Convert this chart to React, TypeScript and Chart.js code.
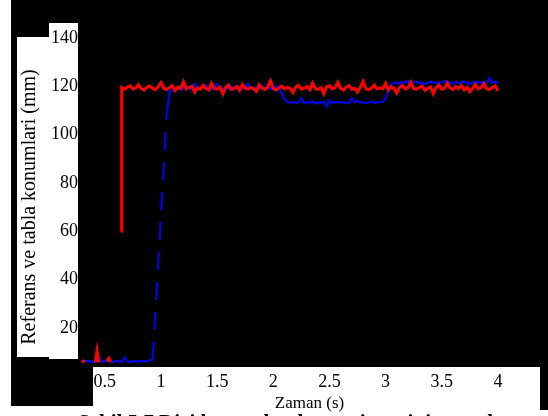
import React, { useEffect, useRef } from "react";
import { Chart, registerables } from "chart.js";

Chart.register(...registerables);

// ---- axis ranges and ticks ----
const X_MIN = 0.2698;
const X_MAX = 4.3749;
const Y_MIN = 4.68;
const Y_MAX = 155.7;
const xTicks = [0.5, 1, 1.5, 2, 2.5, 3, 3.5, 4];
const yTicks = [20, 40, 60, 80, 100, 120, 140];

const X_TITLE = "Zaman (s)";
const Y_TITLE = "Referans ve tabla konumlari (mm)";
const CAPTION = "Şekil 5.7 Dizi konumlandırma sisteminin cevabı";

// ---- sampled time grid ----
const START_TIME = 0.3;
const TIME_STEP = 0.025;

// Blue: table position (dashed line in the original)
const blueValues = [
  6.2, 6.0, 6.4, 6.1, 5.8, 6.3, 7.6, 6.0, 6.2, 7.0, 6.1, 5.9, 6.4, 6.2, 6.0, 7.8, 6.1, 5.9, 6.3, 6.2, 6.0, 6.4, 6.2, 6.1, 6.6, 6.8,
  26, 47, 67, 87, 108,
  117.5, 118.5, 119.2, 118.8, 119.6, 118.9, 120.4, 119.1, 118.7, 121.0,
  119.3, 118.9, 119.8, 120.6, 119.0, 118.6, 119.4, 120.9, 119.2, 118.8,
  119.5, 119.0, 120.2, 118.7, 119.3, 119.9, 118.9, 119.4, 121.1, 119.0,
  118.8, 119.6, 119.2, 120.3, 118.9, 119.4, 119.1, 118.7, 120.0, 119.3,
  117.0,
  114.8, 113.4,
  113.2, 113.6, 112.9, 113.4, 115.1, 113.0, 113.5, 113.2, 113.8, 112.8,
  113.4, 113.1, 113.6, 111.6, 114.2, 113.0, 113.5, 113.2, 113.7, 113.1,
  113.4, 112.9, 115.2, 113.3, 114.0, 113.2, 113.5, 113.0, 113.4, 113.8,
  113.1, 113.3, 113.5, 113.6,
  115.0, 118.0, 120.8,
  121.2, 121.6, 121.0, 121.8, 121.4, 122.3, 121.1, 121.5, 121.9, 121.2,
  121.6, 120.8, 121.4, 122.0, 121.3, 121.7, 121.1, 121.5, 122.4, 121.2,
  121.6, 121.0, 121.8, 121.3, 121.5, 122.1, 121.2, 120.9, 121.6, 121.4,
  122.0, 121.3, 121.7, 121.2, 123.5, 121.5, 121.9, 121.4,
];

// Red: reference position
const redPreTimes = [0.3, 0.315, 0.33, 0.415, 0.43, 0.445, 0.46, 0.52, 0.535, 0.55, 0.565];
const redPreValues = [5.6, 6.8, null, 5.8, 10.5, 5.8, null, 6.2, 7.4, 6.0, null];
const redJumpTime = 0.645;
const redJumpValue = 60;
const redStartIndex = 14; // first grid sample (t = 0.65) of the main red series
const redValues = [
  119.5, 118.8, 119.6, 120.2, 118.9, 119.3, 120.6, 119.0, 118.4, 119.7, 120.1, 119.2, 118.6, 119.8, 121.5,
  119.1, 118.7, 119.4, 120.3, 118.2, 119.6, 119.0, 121.8, 118.9, 119.5, 120.0, 117.6, 119.3, 118.8, 120.4,
  119.2, 118.5, 121.2, 119.0, 118.9, 119.7, 116.8, 119.4, 120.5, 118.7, 119.1, 119.9, 118.3, 120.8, 119.2,
  118.8, 119.5, 119.0, 117.9, 120.6, 119.3, 118.6, 119.8, 122.2, 119.0, 118.5, 119.4, 120.1, 118.9, 119.6,
  119.1, 117.4, 119.7, 120.4, 118.8, 119.2, 119.9, 118.6, 121.3, 119.0, 118.7, 119.5, 116.9, 119.8, 120.2,
  118.9, 119.4, 121.6, 119.1, 118.4, 119.7, 120.3, 118.8, 119.2, 117.7, 119.6, 122.0, 119.0, 118.6, 119.3,
  120.5, 118.9, 119.4, 119.0, 121.2, 118.5, 119.8, 119.1, 117.2, 119.6, 120.3, 118.9, 119.4, 121.7, 119.0,
  118.7, 119.5, 120.1, 118.3, 119.2, 119.8, 116.9, 119.4, 120.6, 118.8, 119.1, 121.4, 119.3, 118.6, 119.9,
  119.0, 120.3, 118.5, 119.6, 117.8, 119.2, 120.8, 118.9, 119.4, 121.1, 119.0, 118.6, 119.5, 120.2, 118.2,
];

const FONT = "'Liberation Serif', 'Times New Roman', serif";

const decorPlugin = {
  id: "decor",
  beforeDraw(chart: any) {
    const ctx = chart.ctx;
    const W = chart.width;
    const H = chart.height;
    ctx.save();
    ctx.fillStyle = "#000";
    ctx.fillRect(0, 0, W, H);
    ctx.fillStyle = "#fff";
    // left white strip
    ctx.fillRect(0, 0, 11, H);
    // y label box
    ctx.fillRect(17, 37, 61, 320);
    ctx.fillRect(49, 23, 29, 336);
    // x tick box
    ctx.fillRect(93, 367, 447, H - 367);
    // caption row
    ctx.fillRect(11, 406, 529, H - 406);
    ctx.fillRect(540, 410, W - 540, H - 410);
    ctx.restore();
  },
  afterDraw(chart: any) {
    const ctx = chart.ctx;
    ctx.save();
    // black block covering the left part of the first x tick label
    ctx.fillStyle = "#000";
    ctx.fillRect(11, 367, 82, 39);
    // y-axis title
    ctx.fillStyle = "#000";
    ctx.translate(30, 207);
    ctx.rotate(-Math.PI / 2);
    ctx.textAlign = "center";
    ctx.textBaseline = "middle";
    ctx.font = `20px ${FONT}`;
    ctx.fillText(Y_TITLE, 0, 0);
    ctx.restore();
    // caption (cut off at the bottom edge)
    ctx.save();
    ctx.fillStyle = "#000";
    ctx.font = `bold 21px ${FONT}`;
    ctx.textAlign = "left";
    ctx.textBaseline = "alphabetic";
    ctx.fillText(CAPTION, 78, 429);
    ctx.restore();
  },
};

export default function App() {
  const canvasRef = useRef<HTMLCanvasElement | null>(null);

  useEffect(() => {
    document.body.style.margin = "0";
    const canvas = canvasRef.current;
    if (!canvas) return;

    const blueData = blueValues.map((v, i) => ({ x: START_TIME + i * TIME_STEP, y: v }));
    const redData: { x: number; y: number | null }[] = [];
    redPreTimes.forEach((t, i) => redData.push({ x: t, y: redPreValues[i] }));
    redData.push({ x: redJumpTime - 0.003, y: null });
    redData.push({ x: redJumpTime, y: redJumpValue });
    redValues.forEach((v, i) => redData.push({ x: START_TIME + (redStartIndex + i) * TIME_STEP, y: v }));

    const chart = new Chart(canvas, {
      type: "line",
      data: {
        datasets: [
          {
            label: "Referans",
            data: redData,
            borderColor: "#ff0000",
            borderWidth: 3,
            pointRadius: 0,
            tension: 0,
            spanGaps: false,
          },
          {
            label: "Tabla",
            data: blueData,
            borderColor: "#0000ff",
            borderWidth: 2,
            pointRadius: 0,
            tension: 0,
            segment: {
              borderDash: (c: any) =>
                Math.abs(c.p1.parsed.y - c.p0.parsed.y) > 10 ? [18, 12] : undefined,
            },
          },
        ],
      },
      options: {
        responsive: false,
        maintainAspectRatio: false,
        animation: false,
        layout: { padding: { left: 0, right: 8, top: 0, bottom: 0 } },
        plugins: {
          legend: { display: false },
          tooltip: { enabled: false },
        },
        scales: {
          x: {
            type: "linear",
            min: X_MIN,
            max: X_MAX,
            afterBuildTicks: (s: any) => {
              s.ticks = xTicks.map((v) => ({ value: v }));
            },
            afterFit: (s: any) => {
              s.height = 51;
              s.paddingLeft = 0;
              s.paddingRight = 0;
            },
            grid: { display: false, drawTicks: false, tickLength: 0 },
            border: { display: false },
            ticks: {
              color: "#000",
              font: { family: FONT, size: 18 },
              padding: 6,
              maxRotation: 0,
              autoSkip: false,
              callback: (v: any) => String(v),
            },
            title: {
              display: true,
              text: X_TITLE,
              color: "#000",
              font: { family: FONT, size: 17 },
              padding: { top: 0, bottom: 2 },
            },
          },
          y: {
            type: "linear",
            min: Y_MIN,
            max: Y_MAX,
            afterBuildTicks: (s: any) => {
              s.ticks = yTicks.map((v) => ({ value: v }));
            },
            afterFit: (s: any) => {
              s.width = 79;
              s.paddingTop = 0;
              s.paddingBottom = 0;
            },
            grid: { display: false, drawTicks: false, tickLength: 0 },
            border: { display: false },
            ticks: {
              color: "#000",
              font: { family: FONT, size: 18 },
              padding: 1,
              autoSkip: false,
              callback: (v: any) => String(v),
            },
          },
        },
      },
      plugins: [decorPlugin],
    } as any);

    return () => chart.destroy();
  }, []);

  return (
    <div style={{ width: 548, height: 416 }}>
      <canvas ref={canvasRef} width={548} height={416} style={{ display: "block", width: 548, height: 416 }} />
    </div>
  );
}
